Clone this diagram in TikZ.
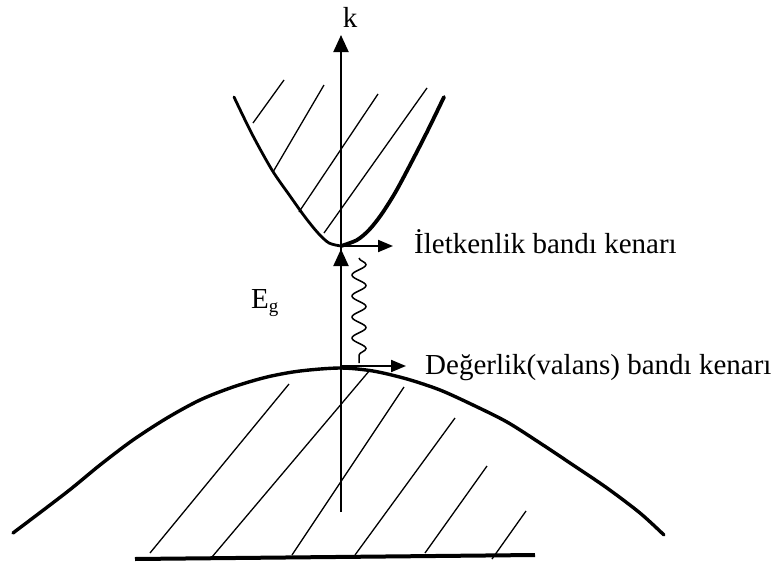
\documentclass[tikz,border=0pt]{standalone}
\usepackage{fontspec}
\setmainfont{Liberation Serif}
\usetikzlibrary{arrows.meta,decorations.pathmorphing}
\begin{document}
\begin{tikzpicture}[x=1pt,y=-1pt,
  band/.style={line width=3.4pt, line join=round, line cap=round},
  hatch/.style={line width=1.3pt},
  axisline/.style={line width=2pt, -{Triangle[length=17pt,width=15pt]}},
  edgearrow/.style={line width=2pt, -{Triangle[length=15pt,width=12pt]}},
  lbl/.style={font=\fontsize{29}{34}\selectfont, inner sep=0pt, anchor=base west},
  photon/.style={line width=1.5pt, decorate, decoration={snake, segment length=21pt, amplitude=7pt}},
]
\useasboundingbox (0,0) rectangle (777,565);

% coordinates
\coordinate (axbot) at (341,512);
\coordinate (axtop) at (341,35);
\coordinate (cmin) at (341,246);
\coordinate (cend) at (393,246);
\coordinate (vmax) at (341,366);
\coordinate (vend) at (406,366);
\coordinate (gaptop) at (341,249);
\coordinate (wtop) at (359,258);
\coordinate (wbot) at (359,363);

% labels
\node[lbl, anchor=base] (k) at (350,27) {k};
\node[lbl] (cb) at (414,253) {İletkenlik bandı kenarı};
\node[lbl] (vb) at (425,374) {Değerlik(valans) bandı kenarı};
\node[lbl] (eg) at (251,308) {E\raisebox{-4pt}{\fontsize{19}{20}\selectfont g}};

% conduction band
\draw[band, line width=2.8pt] plot[smooth] coordinates {(234,97) (252,134) (272,170) (290,196) (305,217) (318,233) (329,243) (341,246)};
\draw[band, line width=3.8pt] plot[smooth] coordinates {(341,246) (357,240) (369,230) (381,215) (395,193) (409,167) (427,132) (444,97)};
\draw[hatch] (253,123) -- (284,80);
\draw[hatch] (273,172) -- (324,85);
\draw[hatch] (299,212) -- (378,94);
\draw[hatch] (324,233) -- (427,88);

% valence band
\draw[band] plot[smooth] coordinates {(13,533) (67,492) (100,465) (133,440) (167,418) (200,400) (233,387) (267,377) (300,371) (340,368) (373,371) (407,379) (440,390) (473,405) (507,422) (540,443) (573,465) (607,488) (640,513) (664,535)};
\draw[line width=4pt] (135,559) -- (535,555);
\draw[hatch] (150,553) -- (289,384);
\draw[hatch] (212,557) -- (370,370);
\draw[hatch] (292,555) -- (404,387);
\draw[hatch] (355,555) -- (455,418);
\draw[hatch] (425,553) -- (487,466);
\draw[hatch] (492,559) -- (526,511);

% axis and arrows
\draw[axisline] (axbot) -- (axtop);
\draw[axisline] (vmax) -- (gaptop);
\draw[edgearrow] (cmin) -- (cend);
\draw[edgearrow] (vmax) -- (vend);
\draw[photon] (wtop) -- (wbot);
\end{tikzpicture}
\end{document}
